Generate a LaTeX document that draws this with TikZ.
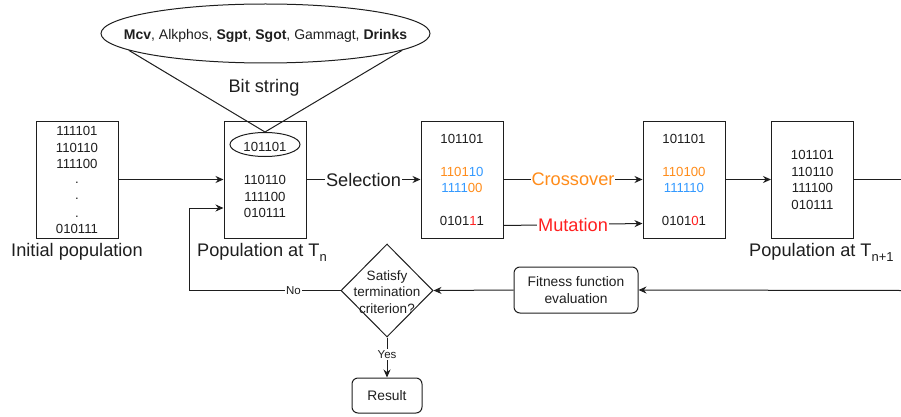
\documentclass[tikz,border=0pt]{standalone}
\usepackage{fontspec}
\setmainfont{Liberation Sans}
\usetikzlibrary{shapes.geometric,arrows.meta}
\definecolor{orng}{HTML}{FF8C1A}
\definecolor{blu}{HTML}{3399FF}
\definecolor{rd}{HTML}{FF2020}
\definecolor{ink}{HTML}{1E1E1E}
\newcommand{\mysub}[1]{\raisebox{-5pt}{\fontsize{13}{13}\selectfont #1}}
\begin{document}
\begin{tikzpicture}[x=1pt,y=-1pt,
 every node/.style={text=ink, inner sep=0pt},
 pbox/.style={draw=ink, line width=1pt, minimum width=82pt, minimum height=117pt},
 bits/.style={font=\fontsize{13.2}{16}\selectfont, anchor=center},
 lbl/.style={font=\fontsize{18.2}{20}\selectfont},
 small/.style={font=\fontsize{11.5}{13}\selectfont},
 conn/.style={draw=ink, line width=1pt, -{Stealth[length=8pt,width=7pt]}},
 plain/.style={draw=ink, line width=1pt},
 rbox/.style={draw=ink, line width=1pt, rounded corners=6pt, font=\fontsize{13.8}{16.5}\selectfont, align=center}]

\useasboundingbox (0,0) rectangle (901,417);

% top ellipse and bit string triangle
\node[ellipse, draw=ink, line width=1pt, minimum width=329pt, minimum height=59pt] (top) at (265.5,33.5) {};
\node[font=\fontsize{14}{16}\selectfont, anchor=base] (toptxt) at (265.5,40) {\textbf{Mcv}, Alkphos, \textbf{Sgpt}, \textbf{Sgot}, Gammagt, \textbf{Drinks}};
\node[lbl, anchor=base] (bitlbl) at (264,93) {Bit string};

% boxes
\node[pbox] (b1) at (77,179.5) {};
\node[pbox] (b2) at (265,179.5) {};
\node[pbox] (b3) at (462,179.5) {};
\node[pbox] (b4) at (684,179.5) {};
\node[pbox] (b5) at (812.5,179.5) {};

% box 1 contents
\node[bits] (b1l1) at (77,131) {111101};
\node[bits] (b1l2) at (77,147.5) {110110};
\node[bits] (b1l3) at (77,164) {111100};
\node[bits] (b1d1) at (77,182.5) {.};
\node[bits] (b1d2) at (77,199) {.};
\node[bits] (b1d3) at (77,216.5) {.};
\node[bits] (b1l4) at (77,229) {010111};
\node[lbl, anchor=base] (l1) at (77,256) {Initial population};

% box 2 contents
\node[ellipse, draw=ink, line width=1pt, minimum width=70pt, minimum height=24pt] (sm) at (265,144.5) {};
\node[bits] (b2l1) at (265,147) {101101};
\node[bits] (b2l2) at (265,180) {110110};
\node[bits] (b2l3) at (265,196.5) {111100};
\node[bits] (b2l4) at (265,213) {010111};
\node[lbl, anchor=base west] (l2) at (197,256) {Population at T\mysub{n}};

\draw[plain] (top.187) -- (sm.north) -- (top.-7);

% box 3 contents
\node[bits] (b3l1) at (462,139) {101101};
\node[bits] (b3l2) at (462,171.5) {\textcolor{orng}{1101}\textcolor{blu}{10}};
\node[bits] (b3l3) at (462,188) {\textcolor{blu}{1111}\textcolor{orng}{00}};
\node[bits] (b3l4) at (462,221) {0101\textcolor{rd}{1}1};

% box 4 contents
\node[bits] (b4l1) at (684,139) {101101};
\node[bits] (b4l2) at (684,171.5) {\textcolor{orng}{110100}};
\node[bits] (b4l3) at (684,188) {\textcolor{blu}{111110}};
\node[bits] (b4l4) at (684,221) {0101\textcolor{rd}{0}1};

% box 5 contents
\node[bits] (b5l1) at (812.5,155) {101101};
\node[bits] (b5l2) at (812.5,171.5) {110110};
\node[bits] (b5l3) at (812.5,188) {111100};
\node[bits] (b5l4) at (812.5,205) {010111};
\node[lbl, anchor=base west] (l5) at (749,256) {Population at T\mysub{n+1}};

% lower flow
\node[rbox, minimum width=124pt, minimum height=46pt] (fit) at (576,290) {Fitness function\\evaluation};
\node[diamond, draw=ink, line width=1pt, minimum width=92pt, minimum height=93pt] (dia) at (387,290.5) {};
\node[font=\fontsize{13.5}{16.5}\selectfont, align=center] (diatxt) at (387,292) {Satisfy\\termination\\criterion?};
\node[rbox, minimum width=70pt, minimum height=35pt] (res) at (387,395.5) {Result};

\coordinate (rtop) at (901,179.5);
\coordinate (rbot) at (901,290.5);
\coordinate (nb) at (189,290.5);

% connectors
\draw[conn] (b1.east) -- (b2.west);
\draw[conn] (b2.east) -- node[lbl, fill=white, inner xsep=1pt] (selL) {Selection} (b3.west);
\draw[conn] (b3.east) -- node[lbl, fill=white, inner xsep=1pt, text=orng] (crL) {Crossover} (b4.west);
\draw[conn] ([yshift=-46pt]b3.east) -- node[lbl, fill=white, inner xsep=1pt, text=rd] (muL) {Mutation} ([yshift=-44pt]b4.west);
\draw[conn] (b4.east) -- (b5.west);
\draw[plain] (b5.east) -- (rtop);
\draw[conn] (rbot) -- (fit.east);
\draw[conn] (fit.west) -- (dia.east);
\draw[conn] (dia.west) -- node[small, fill=white, inner xsep=1pt, pos=0.31] (noL) {No} (nb) |- ([yshift=-28.5pt]b2.west);
\draw[conn] (dia.south) -- node[small, fill=white, inner ysep=1.5pt, pos=0.43] (yesL) {Yes} (res.north);
\end{tikzpicture}
\end{document}
